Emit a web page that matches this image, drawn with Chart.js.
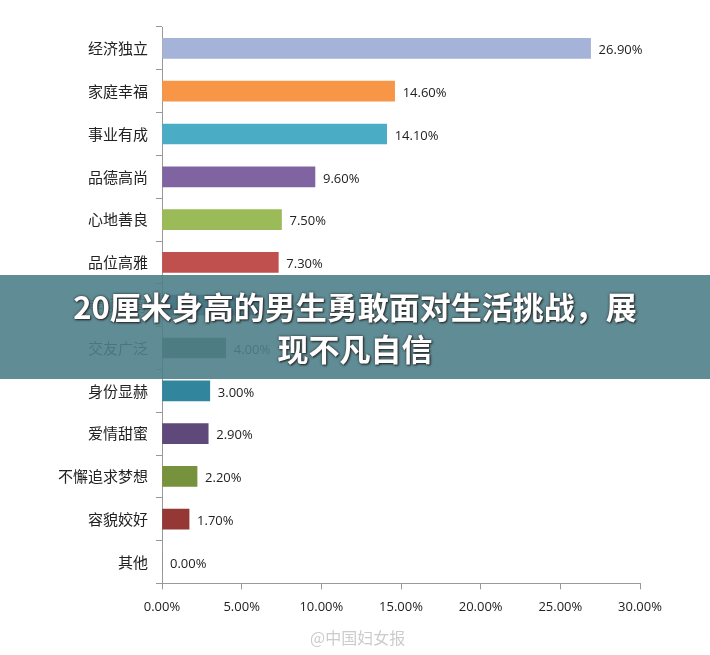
<!DOCTYPE html>
<html><head><meta charset="utf-8">
<script src="https://cdn.jsdelivr.net/npm/chart.js@4"></script>
<style>
body{margin:0;background:#fff;font-family:"Noto Sans CJK SC",sans-serif}
#wrap{position:relative;width:710px;height:655px}
#banner{position:absolute;left:0;top:275px;width:710px;height:104px;background:rgba(78,128,138,0.9);color:#fff;font-weight:bold;font-size:31px;line-height:42px;text-align:center;padding-top:10px;box-sizing:border-box;text-shadow:0 0 3px #333,1px 1px 2px #222}
#mark{position:absolute;left:310px;top:625px;color:#ccc;font-size:16px}
</style></head><body>
<div id="wrap"><canvas id="c" width="710" height="655"></canvas>
<div id="banner">20厘米身高的男生勇敢面对生活挑战，展<br>现不凡自信</div>
<div id="mark">@中国妇女报</div></div>
<script>
var labels = ["经济独立","家庭幸福","事业有成","品德高尚","心地善良","品位高雅","孝顺父母","交友广泛","身份显赫","爱情甜蜜","不懈追求梦想","容貌姣好","其他"];
var values = [26.9,14.6,14.1,9.6,7.5,7.3,6.2,4.0,3.0,2.9,2.2,1.7,0.0];
var colors = ["#A6B3D8","#F79646","#4BACC6","#8064A2","#9BBB59","#C0504D","#2C4D75","#4D5B4C","#31859C","#5F497A","#76923C","#953735","#888"];

var valueLabels = {
    id: "valueLabels",
    afterDatasetsDraw: function(chart) {
        var ctx = chart.ctx;
        var meta = chart.getDatasetMeta(0);
        ctx.save();
        ctx.font = "13px 'Open Sans'";
        ctx.fillStyle = "#222";
        ctx.textBaseline = "middle";
        meta.data.forEach(function(bar, i) {
            ctx.fillText(values[i].toFixed(2) + "%", bar.x + 8, bar.y + 2);
        });
        ctx.restore();
    }
};

new Chart(document.getElementById("c").getContext("2d"), {
    type: "bar",
    data: {
        labels: labels,
        datasets: [{ data: values, backgroundColor: colors, barThickness: 20 }]
    },
    options: {
        indexAxis: "y",
        responsive: false,
        animation: false,
        layout: { padding: { top: 27, right: 70, bottom: 30, left: 50 } },
        plugins: { legend: { display: false }, tooltip: { enabled: false } },
        scales: {
            x: {
                min: 0, max: 30,
                ticks: { stepSize: 5, color: "#222", padding: 10, font: { size: 13, family: "Open Sans" },
                    callback: function(v) { return v.toFixed(2) + "%"; } },
                grid: { drawOnChartArea: false, drawTicks: true, tickLength: 6, color: "#999" },
                border: { color: "#999" }
            },
            y: {
                ticks: { color: "#222", font: { size: 15, family: "Noto Sans CJK SC" }, padding: 8 },
                grid: { drawOnChartArea: false, offset: true, tickLength: 6, color: "#999" },
                border: { color: "#999" }
            }
        }
    },
    plugins: [valueLabels]
});
</script></body></html>
